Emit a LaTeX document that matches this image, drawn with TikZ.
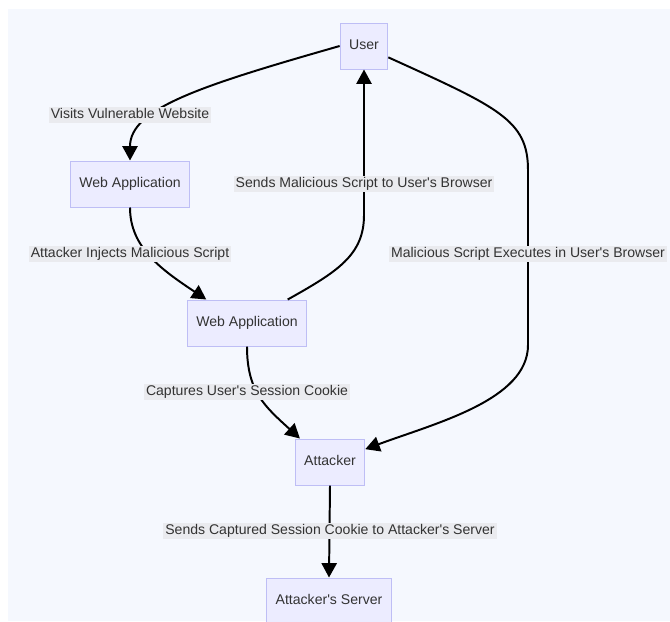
\documentclass[tikz,border=0pt]{standalone}
\usepackage{fontspec}
\setmainfont{Liberation Sans}
\usetikzlibrary{positioning,arrows.meta}
\definecolor{canvas}{RGB}{245,248,254}
\definecolor{boxfill}{RGB}{236,236,255}
\definecolor{boxline}{RGB}{190,190,245}
\definecolor{lblfill}{RGB}{234,235,239}
\definecolor{ink}{RGB}{51,51,51}

\begin{document}
\begin{tikzpicture}[x=0.025cm,y=-0.025cm,>={Triangle[length=0.36cm,width=0.38cm]},
        font=\fontsize{10}{12}\selectfont,
        box/.style={draw=boxline,fill=boxfill,line width=0.7pt,text=ink,minimum height=1.15cm,
            inner xsep=0.225cm,text height=0.25cm,text depth=0.07cm},
        lbl/.style={fill=lblfill,text=ink,inner xsep=0.05cm,inner ysep=0.04cm,text height=0.25cm,text depth=0.07cm},
        flow/.style={->,line width=1.4pt}]
            \useasboundingbox (0,0) rectangle (670,621);
            \fill[canvas] (8,9) rectangle (670,621);
            % nodes
            \node[box] (user) at (364,46) {User};
            \node[box] (web1) at (130,184) {Web Application};
            \node[box] (web2) at (247,323) {Web Application};
            \node[box] (attacker) at (330,462) {Attacker};
            \node[box] (server) at (329,601) {Attacker\textquotesingle s Server};
            \coordinate (k3) at (364,215);
            \coordinate (k4a) at (528,170);
            \coordinate (k4b) at (528,345);
            % connectors
            \draw[flow] (user.west) .. controls +(-140,40) and +(0,-52) .. (web1.north);
            \draw[flow] (web1.south) .. controls +(0,40) and +(-45,-30) .. (web2.150);
            \draw[flow] (web2.30) .. controls +(50,-28) and +(0,40) .. (k3) -- (user.south);
            \draw[flow] (user.-25) .. controls +(110,50) and +(0,-50) .. (k4a) -- (k4b)
                .. controls +(0,55) and +(70,-26) .. (attacker.20);
            \draw[flow] (web2.south) .. controls +(0,45) and +(-35,-32) .. (attacker.142);
            \draw[flow] (attacker.south) -- (server.north);
            % labels
            \node[lbl] (l1) at (130,115) {Visits Vulnerable Website};
            \node[lbl] (l2) at (130,254) {Attacker Injects Malicious Script};
            \node[lbl] (l3) at (364,184) {Sends Malicious Script to User\textquotesingle s Browser};
            \node[lbl] (l4) at (528,254) {Malicious Script Executes in User\textquotesingle s Browser};
            \node[lbl] (l5) at (247,392) {Captures User\textquotesingle s Session Cookie};
            \node[lbl] (l6) at (330,531) {Sends Captured Session Cookie to Attacker\textquotesingle s Server};
        \end{tikzpicture}
\end{document}
